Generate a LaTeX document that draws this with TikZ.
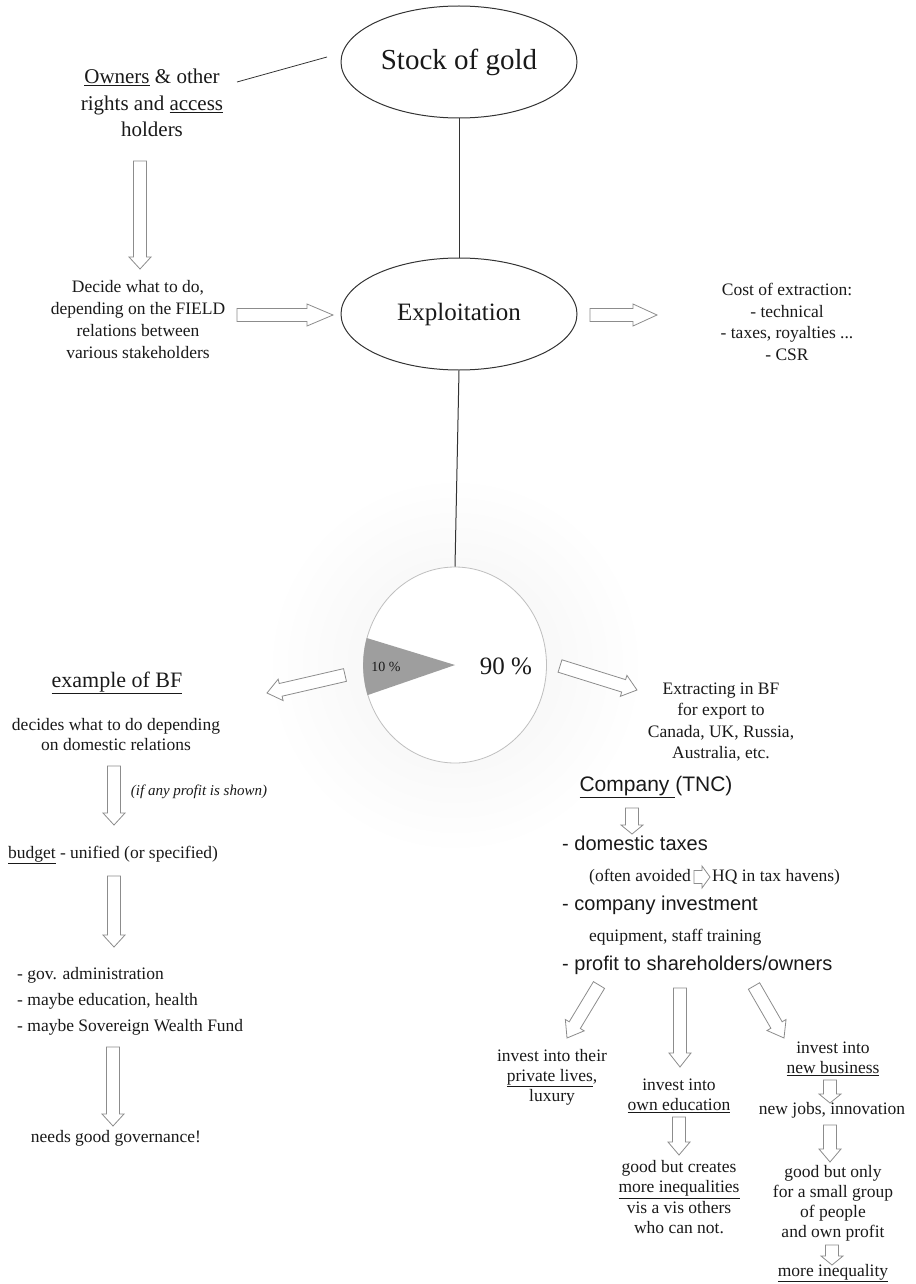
\documentclass[tikz,border=0pt]{standalone}
\usepackage{fontspec}
\setmainfont{Liberation Serif}
\setsansfont{Liberation Sans}
\usetikzlibrary{shapes.geometric,calc}

\tikzset{
  oval/.style={draw=black!80, line width=1pt, ellipse, inner sep=0pt, text=black!90,
    minimum width=236pt, minimum height=112pt},
  txt/.style={inner sep=0pt, align=center, text=black!90, font=\fontsize{17.5}{21}\selectfont},
  gross/.style={inner sep=0pt, text=black!90, font=\sffamily\fontsize{20}{24}\selectfont},
  hollow/.style={draw=black!45, line width=0.8pt, fill=white},
  linie/.style={draw=black!80, line width=1pt}
}

% Blockpfeil von #2 nach #3, #1 = Laenge der Spitze
\newcommand{\blockpfeil}[3][12pt]{%
  \draw[hollow] let \p1=#2, \p2=#3,
    \n1={atan2(\y2-\y1,\x2-\x1)}, \n2={veclen(\x2-\x1,\y2-\y1)} in
    [shift={(\p1)}, rotate=\n1]
    (0pt,-6.5pt) -- (\n2-#1,-6.5pt) -- (\n2-#1,-11pt) -- (\n2,0pt)
    -- (\n2-#1,11pt) -- (\n2-#1,6.5pt) -- (0pt,6.5pt) -- cycle;}

\begin{document}
\begin{tikzpicture}[x=1pt, y=-1pt]
\useasboundingbox (0,0) rectangle (915,1284);
% Schatten um den Kreis
\shade[inner color=black!5, outer color=white] (455,665) circle (190);
% Ellipsen und Kreis
\node[oval, font=\fontsize{29}{34}\selectfont] (stock) at (459,62) {Stock of gold};
\node[oval, font=\fontsize{25}{30}\selectfont] (exploit) at (459,314) {Exploitation};
\node[ellipse, draw=black!25, line width=0.8pt, fill=white,
  minimum width=183pt, minimum height=196pt] (pie) at (455,665) {};
\fill[black!38] (pie.center) \foreach \a in {163,169,...,199} {-- (pie.\a)} -- cycle;
% Beschriftungen oben
\node[txt, font=\fontsize{21}{26.5}\selectfont] (owners) at (152,103)
  {\underline{Owners} \& other\\rights and \underline{access}\\holders};
\node[txt, font=\fontsize{17.5}{22}\selectfont] (decide) at (138,320)
  {Decide what to do,\\depending on the FIELD\\relations between\\various stakeholders};
\node[txt, font=\fontsize{17.5}{21.5}\selectfont] (cost) at (787,322)
  {Cost of extraction:\\- technical\\- taxes, royalties ...\\- CSR};
\node[txt, font=\fontsize{14}{16}\selectfont] (ten) at (386,667) {10 \%};
\node[txt, font=\fontsize{25}{30}\selectfont] (ninety) at (506,666) {90 \%};
% Beschriftungen links
\node[txt, font=\fontsize{22}{26}\selectfont] (example) at (117,683) {\underline{example of BF}};
\node[txt, font=\fontsize{17.5}{20}\selectfont] (domestic) at (116,735)
  {decides what to do depending\\on domestic relations};
\node[txt, font=\itshape\fontsize{15}{18}\selectfont] (ifany) at (199,792) {(if any profit is shown)};
\node[txt] (budget) at (113,855) {\underline{budget} - unified (or specified)};
\node[txt, align=left, font=\fontsize{17.5}{26}\selectfont, anchor=west] (gov) at (17,1001)
  {- gov. administration\\- maybe education, health\\- maybe Sovereign Wealth Fund};
\node[txt] (needs) at (116,1138) {needs good governance!};
% Beschriftungen rechts
\node[txt, font=\fontsize{17.5}{21.5}\selectfont] (extract) at (721,722)
  {Extracting in BF\\for export to\\Canada, UK, Russia,\\Australia, etc.};
\node[gross, font=\sffamily\fontsize{21}{25}\selectfont] (company) at (656,787) {\underline{Company\ }(TNC)};
\node[gross, anchor=west] (taxes) at (562,843) {- domestic taxes};
\node[txt, anchor=west] (avoided) at (589,877) {(often avoided};
\node[txt, anchor=west] (havens) at (712,877) {HQ in tax havens)};
\node[gross, anchor=west] (invest) at (562,905) {- company investment};
\node[txt, anchor=west] (equip) at (589,937) {equipment, staff training};
\node[gross, anchor=west] (profit) at (562,965) {- profit to shareholders/owners};
\node[txt, font=\fontsize{17.5}{20}\selectfont] (private) at (552,1077)
  {invest into their\\\underline{private lives},\\luxury};
\node[txt, font=\fontsize{17.5}{20}\selectfont] (owned) at (679,1096)
  {invest into\\\underline{own education}};
\node[txt, font=\fontsize{17.5}{20.3}\selectfont] (goodA) at (679,1197)
  {good but creates\\\underline{more inequalities}\\vis a vis others\\who can not.};
\node[txt, font=\fontsize{17.5}{20}\selectfont] (newbus) at (833,1059)
  {invest into\\\underline{new business}};
\node[txt] (jobs) at (832,1110) {new jobs, innovation};
\node[txt, font=\fontsize{17.5}{20}\selectfont] (goodB) at (833,1203)
  {good but only\\for a small group\\of people\\and own profit};
\node[txt] (more) at (833,1273) {\underline{more inequality}};
% Linien
\draw[linie] (stock) -- (exploit);
\draw[linie] (exploit.south) -- (pie.north);
\draw[linie, line width=0.8pt] ([shift={(85,-21)}]owners.center) -- ([shift={(-132,-5)}]stock.center);
% Pfeile
\blockpfeil{([shift={(-12,58)}]owners.center)}{([shift={(2,-51)}]decide.center)}
\blockpfeil[26pt]{([shift={(99,-5)}]decide.center)}{([shift={(-126,1)}]exploit.center)}
\blockpfeil[24pt]{([shift={(131,1)}]exploit.center)}{([shift={(-130,-7)}]cost.center)}
\blockpfeil[14pt]{([shift={(-110,10)}]pie.center)}{([shift={(150,10)}]example.center)}
\blockpfeil[14pt]{([shift={(105,1)}]pie.center)}{([shift={(-84,-32)}]extract.center)}
\blockpfeil{([shift={(-2,31)}]domestic.center)}{([shift={(1,-30)}]budget.center)}
\blockpfeil{([shift={(1,21)}]budget.center)}{([shift={(97,-54)}]gov.west)}
\blockpfeil{([shift={(96,46)}]gov.west)}{([shift={(-3,-12)}]needs.center)}
\blockpfeil[9pt]{([shift={(-24,21)}]company.center)}{([shift={(70,-9)}]taxes.west)}
\blockpfeil[8pt]{([shift={(3,0)}]avoided.east)}{([shift={(-2,0)}]havens.west)}
\blockpfeil[15pt]{([shift={(37,20)}]profit.west)}{([shift={(15,-39)}]private.center)}
\blockpfeil[14pt]{([shift={(118,23)}]profit.west)}{([shift={(1,-29)}]owned.center)}
\blockpfeil[15pt]{([shift={(192,21)}]profit.west)}{([shift={(-49,-21)}]newbus.center)}
\blockpfeil[13pt]{([shift={(0,21)}]owned.center)}{([shift={(0,-42)}]goodA.center)}
\blockpfeil[9pt]{([shift={(-3,21)}]newbus.center)}{([shift={(-2,-7)}]jobs.center)}
\blockpfeil[13pt]{([shift={(-2,15)}]jobs.center)}{([shift={(-3,-41)}]goodB.center)}
\blockpfeil[9pt]{([shift={(-1,42)}]goodB.center)}{([shift={(-1,-8)}]more.center)}
\end{tikzpicture}
\end{document}
